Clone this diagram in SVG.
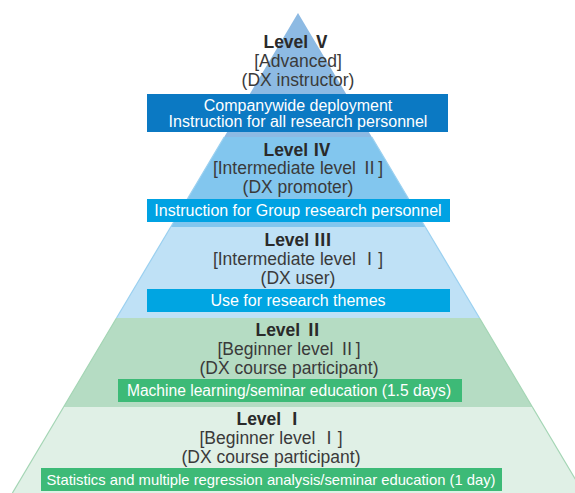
<svg xmlns="http://www.w3.org/2000/svg" width="575" height="493" viewBox="0 0 575 493">
<style>
.t{font-family:"Liberation Sans","Noto Sans CJK JP",sans-serif;font-size:17.5px;fill:#3a3a3a;text-anchor:middle}
.h{font-weight:bold;fill:#2a2a2a}
.b{font-family:"Liberation Sans","Noto Sans CJK JP",sans-serif;font-size:16px;fill:#ffffff;text-anchor:middle}
.eb{stroke:#9ad0f0;stroke-width:1.2}
.eg{stroke:#a3d5b4;stroke-width:1.2}
</style>
<rect width="575" height="493" fill="#ffffff"/>
<g id="level5">
<polygon points="298,13 371.8,137 224.2,137" fill="#8dbae3"/>
<text class="t h" x="297" y="48">Level Ⅴ</text>
<text class="t" x="298" y="67">[Advanced]</text>
<text class="t" x="298" y="86">(DX instructor)</text>
<rect x="147" y="94" width="301" height="38" fill="#0b79c3"/>
<text class="b" x="298" y="111">Companywide deployment</text>
<text class="b" x="298" y="127">Instruction for all research personnel</text>
</g>
<g id="level4">
<polygon points="224.2,137 371.8,137 425.3,227 170.7,227" fill="#82c6ee"/>
<line class="eb" x1="224.2" y1="137" x2="170.7" y2="227"/>
<line class="eb" x1="371.8" y1="137" x2="425.3" y2="227"/>
<text class="t h" x="297" y="155.5">Level Ⅳ</text>
<text class="t" x="298" y="174">[Intermediate level Ⅱ]</text>
<text class="t" x="298" y="192.5">(DX promoter)</text>
<rect x="147" y="199" width="303" height="23" fill="#00a2e3"/>
<text class="b" x="298" y="216">Instruction for Group research personnel</text>
</g>
<g id="level3">
<polygon points="170.7,227 425.3,227 479.5,318 116.5,318" fill="#bfe1f6"/>
<line class="eb" x1="170.7" y1="227" x2="116.5" y2="318"/>
<line class="eb" x1="425.3" y1="227" x2="479.5" y2="318"/>
<text class="t h" x="298" y="245.5">Level Ⅲ</text>
<text class="t" x="298" y="264.5">[Intermediate level Ⅰ]</text>
<text class="t" x="298" y="283.5">(DX user)</text>
<rect x="147" y="289" width="303" height="23" fill="#00a5e2"/>
<text class="b" x="298" y="306">Use for research themes</text>
</g>
<g id="level2">
<polygon points="116.5,318 479.5,318 532.4,407 63.6,407" fill="#b5dcc3"/>
<line class="eg" x1="116.5" y1="318" x2="63.6" y2="407"/>
<line class="eg" x1="479.5" y1="318" x2="532.4" y2="407"/>
<text class="t h" x="289" y="335.5">Level Ⅱ</text>
<text class="t" x="289" y="354.5">[Beginner level Ⅱ]</text>
<text class="t" x="289" y="373.5">(DX course participant)</text>
<rect x="118" y="379" width="344" height="23" fill="#3dba77"/>
<text class="b" x="289" y="396" style="font-size:15.6px">Machine learning/seminar education (1.5 days)</text>
</g>
<g id="level1">
<polygon points="63.6,407 532.4,407 583.6,493 12.4,493" fill="#e0f0e6"/>
<line class="eg" x1="63.6" y1="407" x2="12.4" y2="493"/>
<line class="eg" x1="532.4" y1="407" x2="583.6" y2="493"/>
<text class="t h" x="270" y="424.5">Level Ⅰ</text>
<text class="t" x="271" y="443.5">[Beginner level Ⅰ]</text>
<text class="t" x="271" y="462.5">(DX course participant)</text>
<rect x="41" y="468" width="461" height="23" fill="#3dba77"/>
<text class="b" x="271" y="485" style="font-size:14.8px">Statistics and multiple regression analysis/seminar education (1 day)</text>
</g>
</svg>
